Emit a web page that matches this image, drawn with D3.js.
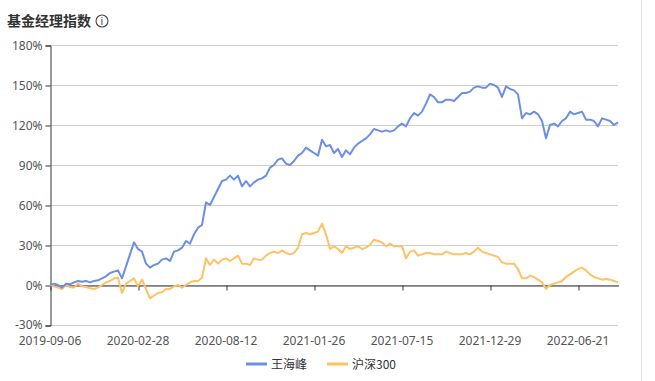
<!DOCTYPE html>
<html><head><meta charset="utf-8">
<script src="https://cdn.jsdelivr.net/npm/d3@7"></script>
<style>
html,body{margin:0;padding:0;background:#fff;}
svg{display:block;font-family:"Noto Sans CJK SC","Noto Sans",sans-serif;}
</style></head>
<body><svg id="c" width="655" height="381"></svg>
<script>
const title = "基金经理指数";
const seriesNames = ["王海峰", "沪深300"];
const colors = ["#6b8ee6", "#ffc163"];
const yTicks = [-30, 0, 30, 60, 90, 120, 150, 180];
const xTickLabels = ["2019-09-06", "2020-02-28", "2020-08-12", "2021-01-26", "2021-07-15", "2021-12-29", "2022-06-21"];
const xTickIndex = [0, 22, 44, 66, 88, 110, 132];
const fundValues = [0,1,0,-2,1,0.5,2,3,2.5,3,2,3,3.5,5,6.5,9,10,11,5,14,23,32,27,25,16,13,15,16,19,20,18,25,26,28,33,31,38,43,45,62,60,66,72,78,79,82,79,82,74,78,74,77,79,80,82,88,90,94,95,91,90,93,97,99,103,101,99,97,109,104,105,99,102,96,101,98,103,106,108,110,113,117,116,115,116,115,116,119,121,119,125,129,127,130,136,143,141,137,137,139,139,138,141,144,144,145,148,149,148,148,151,150,148,141,149,147,146,143,125,129,128,130,128,123,110,120,121,119,123,125,130,128,129,130,124,124,123,119,125,124,123,120,122];
const indexValues = [0,-1,-2,-3,0,-1.5,-2,1,-1,-1.5,-2.5,-3,-2,0,2,3,5,5.5,-6,1,3,5,-1,4,-3,-10,-8,-6,-5.5,-3,-3,-1,0,-2,0,2,3,3,5.5,20,15,19,16,19,20,18,20,22,16,16,15,20,19,19,22,24,25,24,26,24,23,24,28,38,39,38,39,40,46,38,27,29,27,24,29,27,28,29,27,28,30,34,33,32,29,31,29,29,29,20,25,26,22,23,24,24,23,23,23,25,24,23,23,23,24,23,25,28,25,24,23,22,21,17,16,16,16,12,5,5,7,6,4,2,-3,0,1,2,3,6,8,10,12,13,11,8,6,5,4,4.5,4,3,2];

const svg = d3.select("#c");
const L = 50, R = 618, T = 45, B = 325;
const x = d3.scaleLinear().domain([0, fundValues.length - 1]).range([L, R]);
const y = d3.scaleLinear().domain([-30, 180]).range([B, T]);

// right border line
svg.append("line").attr("x1", 641.5).attr("x2", 641.5).attr("y1", 0).attr("y2", 381)
  .attr("stroke", "#e6e6e6").attr("stroke-width", 1);

// title
svg.append("text").attr("x", 7).attr("y", 26).attr("font-size", 14).attr("font-weight", "bold")
  .attr("fill", "#333").text(title);
const ic = svg.append("g").attr("transform", "translate(102,21)");
ic.append("circle").attr("r", 6).attr("fill", "none").attr("stroke", "#444").attr("stroke-width", 1.1);
ic.append("text").attr("y", 4).attr("text-anchor", "middle").attr("font-size", 10).attr("fill", "#444")
  .attr("font-family", "DejaVu Sans").text("i");

// gridlines
svg.append("g").selectAll("line").data(yTicks).join("line")
  .attr("x1", L).attr("x2", R)
  .attr("y1", d => Math.round(y(d)) + 0.5).attr("y2", d => Math.round(y(d)) + 0.5)
  .attr("stroke", "#cfcfcf").attr("stroke-width", 1);

// y axis
const yAxis = svg.append("g").attr("transform", `translate(${L + 0.5},0.5)`)
  .call(d3.axisLeft(y).tickValues(yTicks).tickFormat(d => d + "%").tickSize(5).tickPadding(3));
yAxis.select(".domain").attr("stroke", "#333");
yAxis.selectAll(".tick line").attr("stroke", "#333");
yAxis.selectAll("text").attr("font-size", 12).attr("fill", "#555").attr("font-family", "Noto Sans, sans-serif")
  .attr("dy", d => d === -30 ? "0.22em" : "0.32em");

// x axis at 0%
const xAxis = svg.append("g").attr("transform", `translate(0.5,${Math.round(y(0)) + 0.5})`)
  .call(d3.axisBottom(x).tickValues(xTickIndex).tickFormat((d, i) => xTickLabels[i]).tickSize(5).tickSizeOuter(0));
xAxis.select(".domain").attr("stroke", "#333");
xAxis.selectAll(".tick line").attr("stroke", "#333");
xAxis.selectAll("text").remove();
// x labels at bottom
svg.append("g").selectAll("text").data(xTickIndex).join("text")
  .attr("x", d => x(d)).attr("y", 345).attr("text-anchor", "middle")
  .attr("font-size", 12).attr("fill", "#555").attr("font-family", "Noto Sans, sans-serif")
  .text((d, i) => xTickLabels[i]);

// lines
const line = d3.line().x((d, i) => x(i)).y(d => y(d)).curve(d3.curveLinear);
[indexValues, fundValues].forEach((vals, k) => {
  svg.append("path").datum(vals).attr("d", line).attr("fill", "none")
    .attr("stroke", k === 0 ? colors[1] : colors[0]).attr("stroke-width", 2)
    .attr("stroke-linejoin", "round");
});

// legend
const lg = [{x: 246, name: seriesNames[0], c: colors[0]}, {x: 327, name: seriesNames[1], c: colors[1]}];
lg.forEach(o => {
  svg.append("line").attr("x1", o.x).attr("x2", o.x + 21).attr("y1", 364).attr("y2", 364)
    .attr("stroke", o.c).attr("stroke-width", 3);
  svg.append("text").attr("x", o.x + 25).attr("y", 368.5).attr("font-size", 12).attr("fill", "#333").text(o.name);
});
</script></body></html>
